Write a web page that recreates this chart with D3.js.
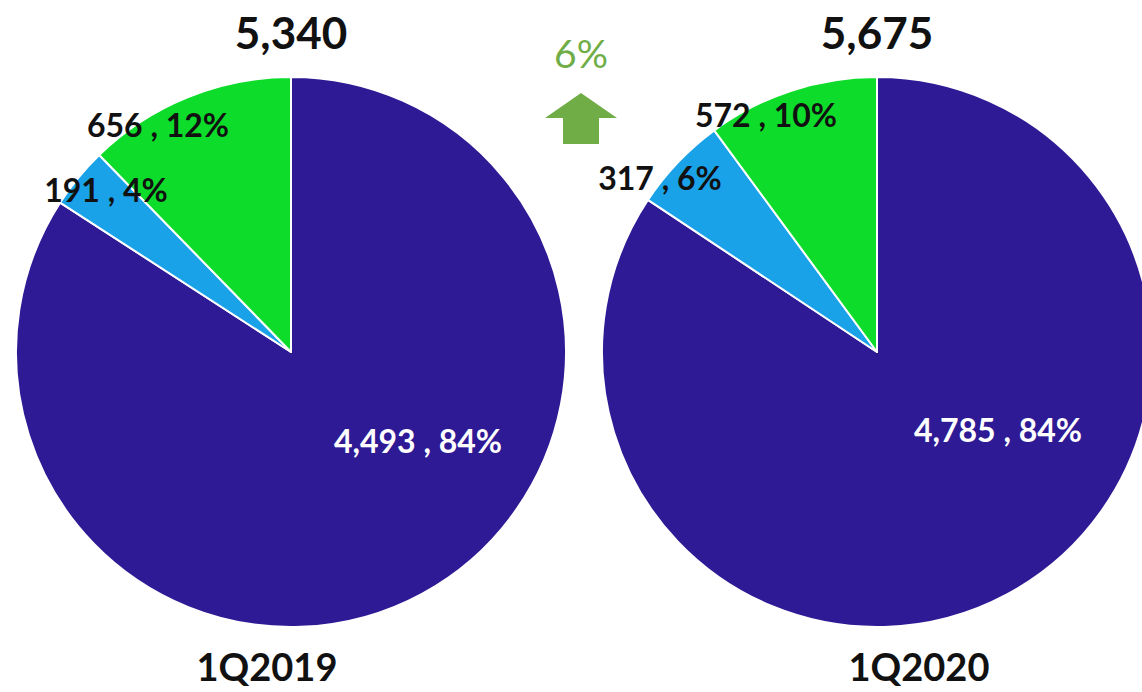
<!DOCTYPE html>
<html>
<head>
<meta charset="utf-8">
<script src="https://cdn.jsdelivr.net/npm/d3@7"></script>
<style>
  html, body { margin: 0; padding: 0; background: #ffffff; }
  svg { display: block; }
  text { font-family: Lato, "Open Sans", sans-serif; }
</style>
</head>
<body>
<svg id="chart" width="1142" height="692"></svg>
<script>
// Segment values per quarter (same order, clockwise from 12 o'clock)
const segments = ["Purple", "Blue", "Green"];
const periods = ["1Q2019", "1Q2020"];
const values2019 = [4493, 191, 656];
const values2020 = [4785, 317, 572];
const totalLabels = ["5,340", "5,675"];
const growthLabel = "6%";

const colors = ["#2e1a95", "#1aa2e9", "#0edc2b"];
const labelColors = ["#ffffff", "#111111", "#111111"];

// Layout
const W = 1142, H = 692;
const radius = 275;
const centers = [[291, 352], [877, 352]];
// Data-label anchors, as offsets from each pie centre (text baseline, middle)
const labelOffsets = [
  [[127, 101], [-185, -150], [-133, -215]],
  [[121, 90], [-217, -162], [-111, -225]]
];
// Period-label horizontal offsets from each pie centre
const periodOffsets = [-24, 42];

const svg = d3.select("#chart");
const pie = d3.pie().sort(null).value(d => d);
const arc = d3.arc().innerRadius(0).outerRadius(radius);
const fmt = d3.format(",");

[values2019, values2020].forEach((vals, i) => {
  const total = d3.sum(vals);
  const g = svg.append("g").attr("transform", `translate(${centers[i][0]},${centers[i][1]})`);

  g.selectAll("path.slice")
    .data(pie(vals))
    .join("path")
    .attr("class", "slice")
    .attr("d", arc)
    .attr("fill", (d, j) => colors[j])
    .attr("stroke", "#ffffff")
    .attr("stroke-width", 2)
    .attr("stroke-linejoin", "round");

  g.selectAll("text.dl")
    .data(pie(vals))
    .join("text")
    .attr("class", "dl")
    .attr("x", (d, j) => labelOffsets[i][j][0])
    .attr("y", (d, j) => labelOffsets[i][j][1])
    .attr("text-anchor", "middle")
    .attr("font-size", 32)
    .attr("font-weight", 700)
    .attr("fill", (d, j) => labelColors[j])
    .text(d => `${fmt(d.data)} , ${Math.round(d.data / total * 100)}%`);

  // Total above the pie
  g.append("text")
    .attr("x", 0)
    .attr("y", -radius - 28)
    .attr("text-anchor", "middle")
    .attr("font-size", 44)
    .attr("font-weight", 700)
    .attr("fill", "#111111")
    .text(totalLabels[i]);

  // Period label below the pie
  g.append("text")
    .attr("x", periodOffsets[i])
    .attr("y", radius + 54)
    .attr("text-anchor", "middle")
    .attr("font-size", 38)
    .attr("font-weight", 700)
    .attr("fill", "#111111")
    .text(periods[i]);
});

// Growth indicator between the pies
const gx = 581;
svg.append("text")
  .attr("x", gx)
  .attr("y", 68)
  .attr("text-anchor", "middle")
  .attr("font-size", 39)
  .attr("fill", "#70ad47")
  .text(growthLabel);

const arrow = d3.path();
arrow.moveTo(gx, 93);
arrow.lineTo(gx + 36, 118);
arrow.lineTo(gx + 18, 118);
arrow.lineTo(gx + 18, 144);
arrow.lineTo(gx - 18, 144);
arrow.lineTo(gx - 18, 118);
arrow.lineTo(gx - 36, 118);
arrow.closePath();
svg.append("path").attr("d", arrow.toString()).attr("fill", "#70ad47");
</script>
</body>
</html>
